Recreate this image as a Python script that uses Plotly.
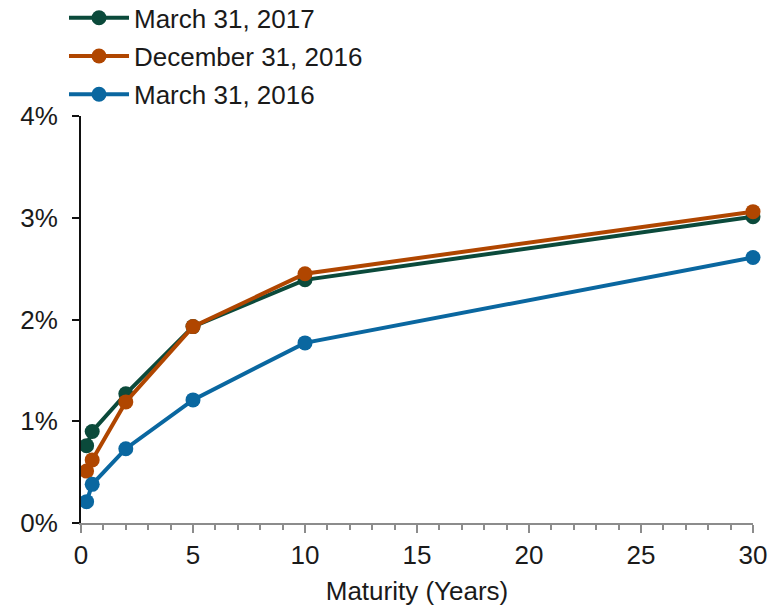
import plotly.graph_objects as go

maturity = [0.25, 0.5, 2, 5, 10, 30]
mar_2017 = [0.76, 0.90, 1.27, 1.93, 2.39, 3.01]
dec_2016 = [0.51, 0.62, 1.19, 1.93, 2.45, 3.06]
mar_2016 = [0.21, 0.38, 0.73, 1.21, 1.77, 2.61]

series_names = ["March 31, 2017", "December 31, 2016", "March 31, 2016"]
series_values = [mar_2017, dec_2016, mar_2016]
series_colors = ["#0b4a3b", "#b04600", "#0a67a0"]

FONT = "Liberation Sans, Arial, sans-serif"
FS = 26

fig = go.Figure()
for i, (name, vals, col) in enumerate(zip(series_names, series_values, series_colors)):
    fig.add_trace(go.Scatter(
        x=maturity, y=vals, name=name, mode="lines+markers",
        line=dict(color=col, width=4),
        marker=dict(color=col, size=15),
        cliponaxis=False,
        legendgroup=f"g{i}",
        legendrank=i,
    ))

W, H = 776, 608
L, R, T, B = 80.7, 23.3, 115.7, 85.3
ph = H - T - B

fig.update_layout(
    width=W, height=H,
    margin=dict(l=L, r=R, t=T, b=B, pad=0, autoexpand=False),
    paper_bgcolor="white", plot_bgcolor="white",
    font=dict(family=FONT, size=FS, color="#1a1a1a"),
    showlegend=True,
    legend=dict(
        x=-0.0253, xanchor="left",
        y=1 + (T + 6) / ph, yanchor="top",
        bgcolor="rgba(0,0,0,0)",
        font=dict(size=FS, family=FONT, color="#1a1a1a"),
        traceorder="grouped",
        tracegroupgap=1.5,
        itemwidth=60,
    ),
    xaxis=dict(
        range=[0, 30], dtick=5, tick0=0,
        showgrid=False, zeroline=False,
        showline=True, linecolor="#8c8c8c", linewidth=2,
        ticks="outside", ticklen=8, tickwidth=2, tickcolor="#8c8c8c",
        minor=dict(dtick=1, ticks="outside", ticklen=5, tickwidth=2, tickcolor="#8c8c8c"),
        tickfont=dict(size=FS, family=FONT, color="#1a1a1a"),
        title=dict(text="Maturity (Years)", font=dict(size=FS, family=FONT, color="#1a1a1a"), standoff=13),
    ),
    yaxis=dict(
        range=[0, 4], dtick=1, tick0=0,
        showgrid=False, zeroline=False,
        showline=True, linecolor="#111111", linewidth=2,
        ticks="outside", ticklen=7, tickwidth=2, tickcolor="#111111",
        ticksuffix="%",
        tickfont=dict(size=FS, family=FONT, color="#1a1a1a"),
        ticklabelstandoff=9,
    ),
)

fig.write_html("out.html")
